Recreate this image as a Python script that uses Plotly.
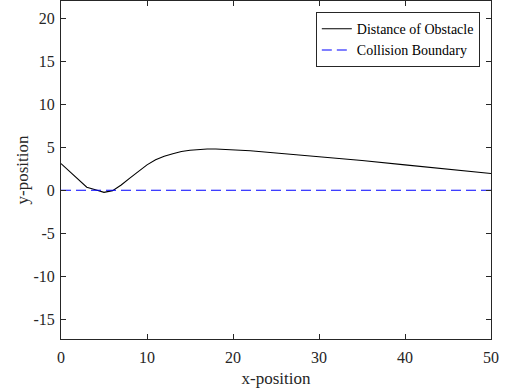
import plotly.graph_objects as go

x_obs = [0, 1, 2, 3, 4, 5, 6, 7, 8, 9, 10, 11, 12, 13, 14, 15, 16, 17, 18, 20, 22, 24, 26, 28, 30, 35, 40, 45, 50]
y_obs = [3.1, 2.15, 1.2, 0.35, 0.05, -0.25, -0.05, 0.6, 1.4, 2.2, 2.95, 3.55, 3.95, 4.25, 4.5, 4.65, 4.75, 4.8, 4.8, 4.72, 4.58, 4.42, 4.25, 4.1, 3.95, 3.45, 2.95, 2.45, 1.95]
x_bound = [0, 50]
y_bound = [0, 0]

x_ticks = [0, 10, 20, 30, 40, 50]
y_ticks = [-15, -10, -5, 0, 5, 10, 15, 20]
y_tick_text = ["-15", "-10", "-5", "0", "5", "10", "15", "20"]

font = "Liberation Serif"
axis_col = "#262626"

fig = go.Figure()
fig.add_trace(go.Scatter(x=x_obs, y=y_obs, mode="lines", name="Distance of Obstacle",
                         line=dict(color="black", width=1.1)))
fig.add_trace(go.Scatter(x=x_bound, y=y_bound, mode="lines", name="Collision Boundary",
                         line=dict(color="#0000ff", width=1.1, dash="10px,5px")))

common = dict(showgrid=False, zeroline=False, showline=True, linecolor=axis_col, linewidth=1,
              mirror="ticks", ticks="inside", ticklen=5, tickcolor=axis_col, automargin=False,
              tickfont=dict(family=font, size=16, color=axis_col))
fig.update_xaxes(range=[0, 50], tickvals=x_ticks, ticklabelstandoff=4,
                 title=dict(text="x-position", font=dict(family=font, size=17, color=axis_col), standoff=6), **common)
fig.update_yaxes(range=[-17.3, 22], tickvals=y_ticks, ticktext=y_tick_text, ticklabelstandoff=2,
                 title=dict(text="y-position", font=dict(family=font, size=17, color=axis_col), standoff=0), **common)

fig.update_layout(
    width=505, height=392,
    margin=dict(l=61, r=14, t=1, b=53),
    plot_bgcolor="white", paper_bgcolor="white",
    font=dict(family=font, color=axis_col),
    legend=dict(x=0.974, y=0.967, xanchor="right", yanchor="top",
                bgcolor="white", bordercolor=axis_col, borderwidth=1,
                font=dict(family=font, size=14, color="black"),
                tracegroupgap=0, itemwidth=30),
)
fig.write_html("out.html", config={"displayModeBar": False},
               post_script="document.body.style.margin='0';document.body.style.padding='0';")
